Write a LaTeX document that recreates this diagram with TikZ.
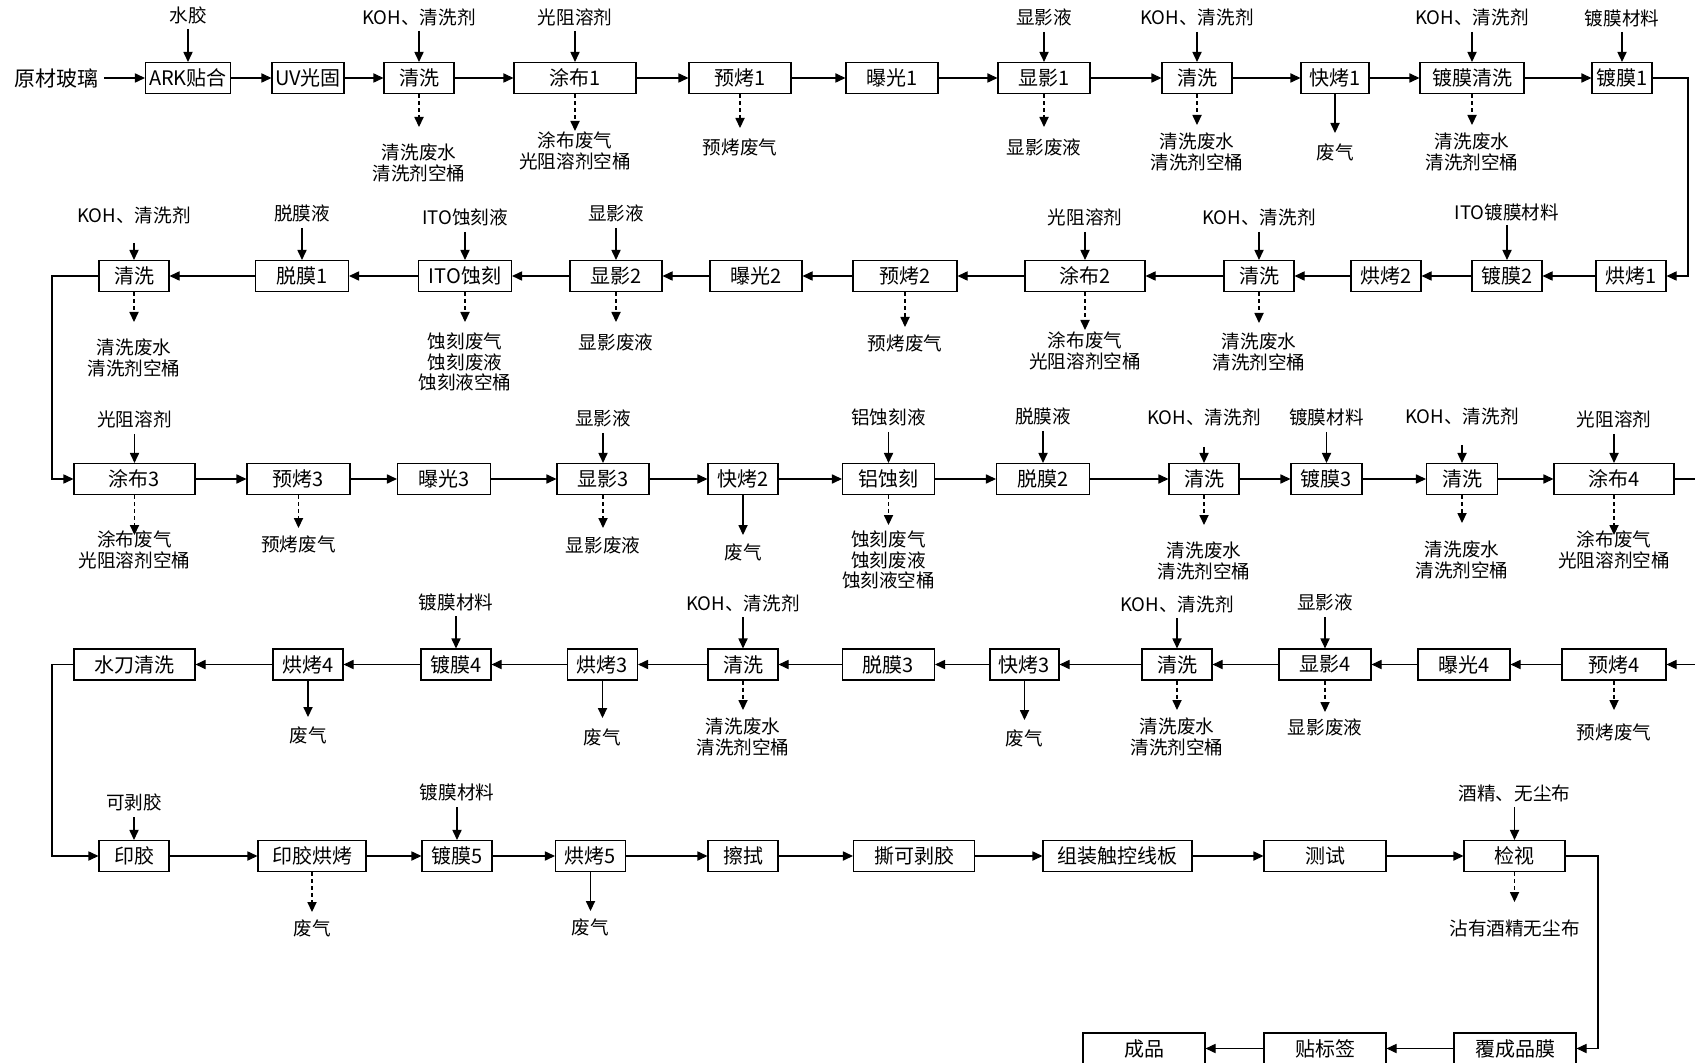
\documentclass[tikz,border=0pt]{standalone}
\usepackage{fontspec}
\setmainfont{Noto Sans CJK SC}
\usetikzlibrary{arrows.meta}
\tikzset{
  box/.style={draw, line width=0.55pt, minimum height=15.5pt, inner sep=0pt, fill=white, font=\fontsize{10}{12}\selectfont},
  lab/.style={inner sep=0pt, align=center, font=\fontsize{9.3}{10.4}\selectfont},
  arr/.style={line width=0.55pt, -{Triangle[length=5pt,width=4.6pt]}},
  darr/.style={arr, dash pattern=on 2pt off 1.5pt},
}
\newcommand\bx[5]{\node[box, minimum width=#4*0.5pt] (#1) at (#2,#3) {#5};}
\newcommand\feed[4]{%
  \node[lab] (#1-in) at (#1.center |- 0,#3) {#2};
  \coordinate (#1-s) at (#1.center |- 0,#4);
  \draw[arr] (#1-s) -- (#1);
}
\newcommand\emit[5]{%
  \coordinate (#1-t) at (#1.center |- 0,#3);
  \draw[#2] (#1) -- (#1-t);
  \node[lab] (#1-out) at (#1.center |- 0,#4) {#5};
}
\begin{document}
\begin{tikzpicture}[x=0.5pt,y=-0.5pt]
\useasboundingbox (0,0) rectangle (1695,1063);
\clip (0,0) rectangle (1695,1063);
\fill[white] (0,0) rectangle (1695,1063);

% Row 1
\node[lab, font=\fontsize{10.5}{12}\selectfont] (raw) at (56,78) {原材玻璃};
\bx{r1a}{188}{78}{85}{ARK贴合}
\bx{r1b}{308}{78}{72}{UV光固}
\bx{r1c}{419}{78}{70}{清洗}
\bx{r1d}{575}{78}{122}{涂布1}
\bx{r1e}{740}{78}{102}{预烤1}
\bx{r1f}{892}{78}{92}{曝光1}
\bx{r1g}{1044}{78}{92}{显影1}
\bx{r1h}{1197}{78}{70}{清洗}
\bx{r1i}{1335}{78}{68}{快烤1}
\bx{r1j}{1472}{78}{104}{镀膜清洗}
\bx{r1k}{1622}{78}{60}{镀膜1}

% Row 2
\bx{r2a}{1631}{276}{70}{烘烤1}
\bx{r2b}{1507}{276}{70}{镀膜2}
\bx{r2c}{1386}{276}{70}{烘烤2}
\bx{r2d}{1259}{276}{70}{清洗}
\bx{r2e}{1085}{276}{120}{涂布2}
\bx{r2f}{905}{276}{104}{预烤2}
\bx{r2g}{756}{276}{92}{曝光2}
\bx{r2h}{616}{276}{92}{显影2}
\bx{r2i}{465}{276}{93}{ITO蚀刻}
\bx{r2j}{302}{276}{93}{脱膜1}
\bx{r2k}{134}{276}{70}{清洗}

% Row 3
\bx{r3a}{134.5}{479}{121}{涂布3}
\bx{r3b}{298.5}{479}{103}{预烤3}
\bx{r3c}{444}{479}{93}{曝光3}
\bx{r3d}{603}{479}{92}{显影3}
\bx{r3e}{743}{479}{70}{快烤2}
\bx{r3f}{888.5}{479}{92}{铝蚀刻}
\bx{r3g}{1043}{479}{93}{脱膜2}
\bx{r3h}{1204}{479}{70}{清洗}
\bx{r3i}{1326.5}{479}{71}{镀膜3}
\bx{r3j}{1462}{479}{71}{清洗}
\bx{r3k}{1614}{479}{120}{涂布4}

% Row 4
\bx{r4a}{1614}{664.5}{104}{预烤4}
\bx{r4b}{1464}{664.5}{92}{曝光4}
\bx{r4c}{1325}{664.5}{92}{显影4}
\bx{r4d}{1177}{664.5}{70}{清洗}
\bx{r4e}{1024.5}{664.5}{69}{快烤3}
\bx{r4f}{888.5}{664.5}{92}{脱膜3}
\bx{r4g}{743}{664.5}{70}{清洗}
\bx{r4h}{602.5}{664.5}{70}{烘烤3}
\bx{r4i}{456}{664.5}{70}{镀膜4}
\bx{r4j}{308}{664.5}{70}{烘烤4}
\bx{r4k}{134.5}{664.5}{121}{水刀清洗}

% Row 5
\bx{r5a}{134}{856}{70}{印胶}
\bx{r5b}{312}{856}{108}{印胶烘烤}
\bx{r5c}{457}{856}{70}{镀膜5}
\bx{r5d}{590.5}{856}{70}{烘烤5}
\bx{r5e}{743}{856}{70}{擦拭}
\bx{r5f}{914}{856}{121}{撕可剥胶}
\bx{r5g}{1117.5}{856}{149}{组装触控线板}
\bx{r5h}{1325}{856}{122}{测试}
\bx{r5i}{1514.5}{856}{101}{检视}

% Row 6
\bx{r6a}{1515}{1048.5}{122}{覆成品膜}
\bx{r6b}{1325}{1048.5}{122}{贴标签}
\bx{r6c}{1144}{1048.5}{122}{成品}

% main flow
\draw[arr, shorten <=3pt] (raw) -- (r1a);
\foreach \a/\b in {r1a/r1b,r1b/r1c,r1c/r1d,r1d/r1e,r1e/r1f,r1f/r1g,r1g/r1h,r1h/r1i,r1i/r1j,r1j/r1k,
  r2a/r2b,r2b/r2c,r2c/r2d,r2d/r2e,r2e/r2f,r2f/r2g,r2g/r2h,r2h/r2i,r2i/r2j,r2j/r2k,
  r3a/r3b,r3b/r3c,r3c/r3d,r3d/r3e,r3e/r3f,r3f/r3g,r3g/r3h,r3h/r3i,r3i/r3j,r3j/r3k,
  r4a/r4b,r4b/r4c,r4c/r4d,r4d/r4e,r4e/r4f,r4f/r4g,r4g/r4h,r4h/r4i,r4i/r4j,r4j/r4k,
  r5a/r5b,r5b/r5c,r5c/r5d,r5d/r5e,r5e/r5f,r5f/r5g,r5g/r5h,r5h/r5i,
  r6a/r6b,r6b/r6c}
  \draw[arr] (\a) -- (\b);

\coordinate (c1) at (1688,177);
\coordinate (c2) at (52,377);
\coordinate (c3) at (1705,570);
\coordinate (c4) at (52,760);
\coordinate (c5) at (1598,950);
\draw[arr] (r1k) -| (c1) |- (r2a);
\draw[arr] (r2k) -| (c2) |- (r3a);
\draw[arr] (r3k) -| (c3) |- (r4a);
\draw[arr] (r4k) -| (c4) |- (r5a);
\draw[arr] (r5i) -| (c5) |- (r6a);

% Row 1 feeds / wastes
\feed{r1a}{水胶}{15}{29}
\feed{r1c}{KOH、清洗剂}{17}{31}
\emit{r1c}{darr}{127}{163}{清洗废水\\清洗剂空桶}
\feed{r1d}{光阻溶剂}{17}{31}
\emit{r1d}{darr}{131}{151}{涂布废气\\光阻溶剂空桶}
\emit{r1e}{darr}{128}{147}{预烤废气}
\feed{r1g}{显影液}{17}{32}
\emit{r1g}{darr}{127}{147}{显影废液}
\feed{r1h}{KOH、清洗剂}{17}{32}
\emit{r1h}{darr}{125}{152}{清洗废水\\清洗剂空桶}
\emit{r1i}{arr}{133}{152}{废气}
\feed{r1j}{KOH、清洗剂}{17}{32}
\emit{r1j}{darr}{125}{152}{清洗废水\\清洗剂空桶}
\feed{r1k}{镀膜材料}{18}{32}

% Row 2
\feed{r2b}{ITO镀膜材料}{212}{225}
\feed{r2d}{KOH、清洗剂}{217}{232}
\emit{r2d}{darr}{323}{352}{清洗废水\\清洗剂空桶}
\feed{r2e}{光阻溶剂}{217}{232}
\emit{r2e}{darr}{330}{351}{涂布废气\\光阻溶剂空桶}
\emit{r2f}{darr}{327}{343}{预烤废气}
\feed{r2h}{显影液}{213}{228}
\emit{r2h}{darr}{322}{342}{显影废液}
\feed{r2i}{ITO蚀刻液}{217}{232}
\emit{r2i}{darr}{322}{362}{蚀刻废气\\蚀刻废液\\蚀刻液空桶}
\feed{r2j}{脱膜液}{213}{228}
\feed{r2k}{KOH、清洗剂}{215}{243}
\emit{r2k}{darr}{322}{358}{清洗废水\\清洗剂空桶}

% Row 3
\feed{r3a}{光阻溶剂}{419}{434}
\emit{r3a}{darr}{535}{550}{涂布废气\\光阻溶剂空桶}
\emit{r3b}{darr}{528}{544}{预烤废气}
\feed{r3d}{显影液}{418}{433}
\emit{r3d}{darr}{528}{545}{显影废液}
\emit{r3e}{arr}{535}{552}{废气}
\feed{r3f}{铝蚀刻液}{417}{432}
\emit{r3f}{darr}{525}{560}{蚀刻废气\\蚀刻废液\\蚀刻液空桶}
\feed{r3g}{脱膜液}{416}{431}
\feed{r3h}{KOH、清洗剂}{417}{447}
\emit{r3h}{darr}{525}{561}{清洗废水\\清洗剂空桶}
\feed{r3i}{镀膜材料}{417}{432}
\feed{r3j}{KOH、清洗剂}{416}{445}
\emit{r3j}{darr}{523}{560}{清洗废水\\清洗剂空桶}
\feed{r3k}{光阻溶剂}{419}{434}
\emit{r3k}{darr}{535}{550}{涂布废气\\光阻溶剂空桶}

% Row 4
\emit{r4a}{darr}{710}{732}{预烤废气}
\feed{r4c}{显影液}{602}{617}
\emit{r4c}{darr}{712}{727}{显影废液}
\feed{r4d}{KOH、清洗剂}{604}{618}
\emit{r4d}{darr}{710}{737}{清洗废水\\清洗剂空桶}
\emit{r4e}{arr}{720}{738}{废气}
\feed{r4g}{KOH、清洗剂}{603}{617}
\emit{r4g}{darr}{710}{737}{清洗废水\\清洗剂空桶}
\emit{r4h}{arr}{718}{737}{废气}
\feed{r4i}{镀膜材料}{602}{616}
\emit{r4j}{arr}{717}{735}{废气}

% Row 5
\feed{r5a}{可剥胶}{802}{817}
\emit{r5b}{darr}{912}{928}{废气}
\feed{r5c}{镀膜材料}{792}{807}
\emit{r5d}{arr}{911}{927}{废气}
\feed{r5i}{酒精、无尘布}{793}{807}
\emit{r5i}{darr}{902}{928}{沾有酒精无尘布}
\end{tikzpicture}
\end{document}
